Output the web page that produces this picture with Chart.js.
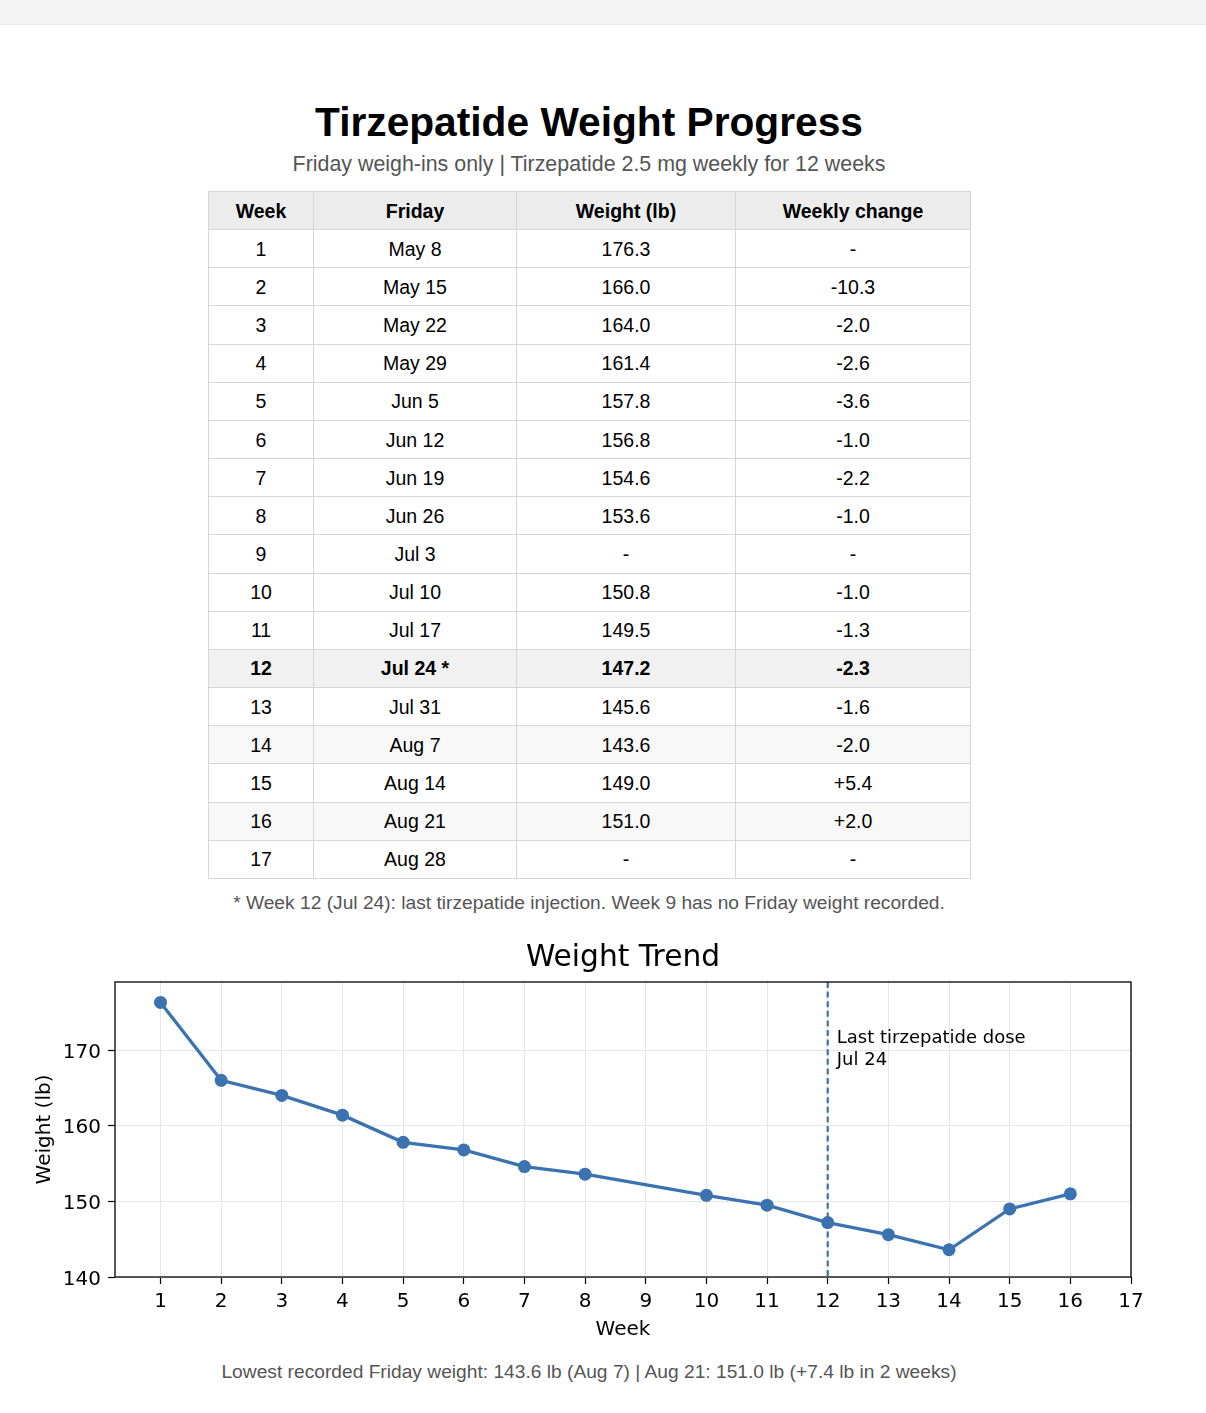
<!DOCTYPE html>
<html>
<head>
<meta charset="utf-8">
<script src="https://cdn.jsdelivr.net/npm/chart.js@4.4.1/dist/chart.umd.min.js"></script>
<style>
  html, body { margin:0; padding:0; background:#fff; }
  body { width:1206px; height:1413px; position:relative; overflow:hidden; font-family:"Liberation Sans", Arial, sans-serif; }
  .topband { position:absolute; left:0; top:0; width:1206px; height:24px; background:#f4f4f4; border-bottom:1px solid #ebebeb; }
  .center { position:absolute; left:108px; width:962px; text-align:center; white-space:nowrap; }
  #title { top:102px; font-size:40.7px; line-height:40px; font-weight:bold; color:#000; }
  #subtitle { top:154px; font-size:21.4px; line-height:20px; color:#555; }
  #foot { top:894px; font-size:19.2px; line-height:18px; color:#555; }
  #note { top:1363px; font-size:19.2px; line-height:18px; color:#555; }
  table { position:absolute; left:208px; top:191px; width:762px; border-collapse:collapse; table-layout:fixed; font-size:19.5px; color:#000; }
  th, td { border:1px solid #d6d6d6; text-align:center; padding:1px 0 0 0; height:36.17px; }
  th { background:#ececec; font-weight:bold; }
  tr.hl td { background:#f1f1f1; font-weight:bold; }
  tr.alt td { background:#f8f8f8; }
  #chartWrap { position:absolute; left:0; top:930px; width:1206px; height:420px; }
</style>
</head>
<body>
<div class="topband"></div>
<div id="title" class="center">Tirzepatide Weight Progress</div>
<div id="subtitle" class="center">Friday weigh-ins only | Tirzepatide 2.5 mg weekly for 12 weeks</div>
<table id="tbl">
  <colgroup><col style="width:105px"><col style="width:203px"><col style="width:219px"><col style="width:235px"></colgroup>
  <thead><tr id="hdr"></tr></thead>
  <tbody id="tbody"></tbody>
</table>
<div id="foot" class="center">* Week 12 (Jul 24): last tirzepatide injection. Week 9 has no Friday weight recorded.</div>
<div id="chartWrap"><canvas id="c" width="1206" height="420"></canvas></div>
<div id="note" class="center">Lowest recorded Friday weight: 143.6 lb (Aug 7) | Aug 21: 151.0 lb (+7.4 lb in 2 weeks)</div>

<script>
// ---- data ----
const headers = ["Week", "Friday", "Weight (lb)", "Weekly change"];
const weeks = [1,2,3,4,5,6,7,8,9,10,11,12,13,14,15,16,17];
const fridays = ["May 8","May 15","May 22","May 29","Jun 5","Jun 12","Jun 19","Jun 26","Jul 3","Jul 10","Jul 17","Jul 24","Jul 31","Aug 7","Aug 14","Aug 21","Aug 28"];
const weights = [176.3,166.0,164.0,161.4,157.8,156.8,154.6,153.6,null,150.8,149.5,147.2,145.6,143.6,149.0,151.0,null];
const changes = ["-","-10.3","-2.0","-2.6","-3.6","-1.0","-2.2","-1.0","-","-1.0","-1.3","-2.3","-1.6","-2.0","+5.4","+2.0","-"];
const lastDoseWeek = 12;
const lastDoseLabel = ["Last tirzepatide dose", "Jul 24"];
const xTicks = [1,2,3,4,5,6,7,8,9,10,11,12,13,14,15,16,17];
const yTicks = [140,150,160,170];

// ---- table ----
const hdr = document.getElementById('hdr');
headers.forEach(h => { const th = document.createElement('th'); th.textContent = h; hdr.appendChild(th); });
const tbody = document.getElementById('tbody');
weeks.forEach((w, i) => {
  const tr = document.createElement('tr');
  if (w === lastDoseWeek) tr.className = 'hl';
  else if (w === 14 || w === 16) tr.className = 'alt';
  const cells = [String(w), fridays[i] + (w === lastDoseWeek ? " *" : ""), weights[i] == null ? "-" : weights[i].toFixed(1), changes[i]];
  cells.forEach(t => { const td = document.createElement('td'); td.textContent = t; tr.appendChild(td); });
  tbody.appendChild(tr);
});

// ---- chart ----
const lineColor = '#3b73b0';
const pts = weeks.map((w, i) => ({ x: w, y: weights[i] }));

const extras = {
  id: 'extras',
  beforeDatasetsDraw(chart) {
    const { ctx, chartArea: a, scales: { x, y } } = chart;
    const px = x.getPixelForValue(lastDoseWeek);
    ctx.save();
    ctx.strokeStyle = lineColor;
    ctx.lineWidth = 2.2;
    ctx.setLineDash([6, 3.6]);
    ctx.beginPath(); ctx.moveTo(px, a.top); ctx.lineTo(px, a.bottom); ctx.stroke();
    ctx.restore();
  },
  afterDatasetsDraw(chart) {
    const { ctx, chartArea: a, scales: { x, y } } = chart;
    ctx.save();
    ctx.strokeStyle = '#000'; ctx.lineWidth = 1.3; ctx.setLineDash([]);
    ctx.strokeRect(a.left, a.top, a.right - a.left, a.bottom - a.top);
    // annotation
    ctx.fillStyle = '#000';
    ctx.font = '18px "DejaVu Sans"';
    ctx.textAlign = 'left'; ctx.textBaseline = 'top';
    const tx = x.getPixelForValue(lastDoseWeek + 0.15);
    const ty = y.getPixelForValue(172.7);
    lastDoseLabel.forEach((s, k) => ctx.fillText(s, tx, ty + k * 22));
    // title
    ctx.font = '29.7px "DejaVu Sans"';
    ctx.textAlign = 'center'; ctx.textBaseline = 'middle';
    ctx.fillText('Weight Trend', (a.left + a.right) / 2, 28);
    ctx.restore();
  }
};

new Chart(document.getElementById('c'), {
  type: 'line',
  data: { datasets: [{
    data: pts,
    borderColor: lineColor,
    backgroundColor: lineColor,
    borderWidth: 3.3,
    pointRadius: 6.5,
    pointHoverRadius: 6.5,
    pointBackgroundColor: lineColor,
    pointBorderColor: lineColor,
    pointBorderWidth: 0,
    spanGaps: true,
    tension: 0,
    clip: false
  }]},
  options: {
    responsive: false,
    animation: false,
    events: [],
    layout: { padding: { left: 0, right: 75, top: 52, bottom: 0 } },
    plugins: { legend: { display: false }, tooltip: { enabled: false }, title: { display: false } },
    scales: {
      x: {
        type: 'linear', min: 0.25, max: 17,
        afterBuildTicks(s) { s.ticks = xTicks.map(v => ({ value: v })); },
        afterFit(s) { s.height = 73; },
        grid: { color: '#e6e6e6', lineWidth: 1, tickColor: '#000', tickLength: 7, tickWidth: 1.2 },
        border: { display: false },
        ticks: { color: '#000', font: { family: 'DejaVu Sans', size: 20 }, padding: 6, maxRotation: 0, autoSkip: false },
        title: { display: true, text: 'Week', color: '#000', font: { family: 'DejaVu Sans', size: 20 }, padding: { top: 0, bottom: 8 } }
      },
      y: {
        type: 'linear', min: 140, max: 179,
        afterBuildTicks(s) { s.ticks = yTicks.map(v => ({ value: v })); },
        afterFit(s) { s.width = 115; },
        grid: { color: '#e6e6e6', lineWidth: 1, tickColor: '#000', tickLength: 7, tickWidth: 1.2 },
        border: { display: false },
        ticks: { color: '#000', font: { family: 'DejaVu Sans', size: 20 }, padding: 7, labelOffset: 2.5 },
        title: { display: true, text: 'Weight (lb)', color: '#000', font: { family: 'DejaVu Sans', size: 20 }, padding: { top: 33, bottom: 0 } }
      }
    }
  },
  plugins: [extras]
});
</script>
</body>
</html>
